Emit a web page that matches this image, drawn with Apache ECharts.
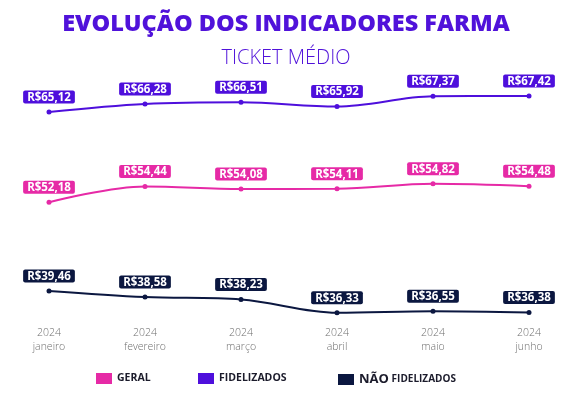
<!DOCTYPE html>
<html>
<head>
<meta charset="utf-8">
<script src="https://cdn.jsdelivr.net/npm/echarts@6/dist/echarts.min.js"></script>
<style>
html,body{margin:0;padding:0;background:#fff;}
#chart{width:572px;height:399px;}
</style>
</head>
<body>
<div id="chart"></div>
<script>
const months = ['janeiro','fevereiro','março','abril','maio','junho'];
const year = '2024';
const geral = [52.18, 54.44, 54.08, 54.11, 54.82, 54.48];
const fidelizados = [65.12, 66.28, 66.51, 65.92, 67.37, 67.42];
const naoFidelizados = [39.46, 38.58, 38.23, 36.33, 36.55, 36.38];

const C_GERAL = '#E62AA6';
const C_FID = '#4E0FDC';
const C_NAO = '#0B1740';
const TITLE_C = '#5012DA';

function fmt(v){ return 'R$' + v.toFixed(2).replace('.', ','); }

function mkSeries(name, data, color){
  return {
    name: name,
    type: 'line',
    data: data,
    smooth: 0.35,
    symbol: 'circle',
    symbolSize: 5,
    lineStyle: {color: color, width: 2},
    itemStyle: {color: color},
    label: {
      show: true,
      position: 'top',
      distance: 6,
      formatter: p => fmt(p.value),
      color: '#fff',
      fontFamily: 'Open Sans',
      fontWeight: 'bold',
      fontSize: 11.5,
      lineHeight: 12,
      backgroundColor: color,
      padding: [1, 4, 0, 4],
      borderRadius: 2
    }
  };
}

const legendText = {color: '#1b1b2b', fontFamily: 'Open Sans', fontWeight: 'bold', fontSize: 10.5};

const chart = echarts.init(document.getElementById('chart'));
chart.setOption({
  backgroundColor: '#fff',
  animation: false,
  title: [
    {text: 'EVOLUÇÃO DOS INDICADORES FARMA', left: 'center', top: 7,
     textStyle: {color: TITLE_C, fontFamily: 'Open Sans', fontWeight: 900, fontSize: 23.5}},
    {text: 'TICKET MÉDIO', left: 'center', top: 43,
     textStyle: {color: TITLE_C, fontFamily: 'Open Sans', fontWeight: 300, fontSize: 20}}
  ],
  grid: {left: 49, right: 43, top: 78, bottom: 77},
  xAxis: {
    type: 'category',
    data: months,
    boundaryGap: false,
    axisLine: {show: false},
    axisTick: {show: false},
    splitLine: {show: false},
    axisLabel: {
      formatter: v => year + '\n' + v,
      color: '#707070',
      fontFamily: 'Open Sans',
      fontWeight: 300,
      fontSize: 10.5,
      lineHeight: 14,
      margin: 4
    }
  },
  yAxis: {
    type: 'value', min: 35, max: 70, show: false,
    splitLine: {show: false}
  },
  legend: [
    {data: ['GERAL'], left: 96, top: 373, padding: 0, icon: 'rect', itemWidth: 16, itemHeight: 11,
     textStyle: legendText},
    {data: ['FIDELIZADOS'], left: 198, top: 373, padding: 0, icon: 'rect', itemWidth: 16, itemHeight: 11,
     textStyle: legendText},
    {data: ['NÃO FIDELIZADOS'], left: 338, top: 373, padding: 0, icon: 'rect', itemWidth: 16, itemHeight: 11,
     formatter: () => '{a|NÃO} {b|FIDELIZADOS}',
     textStyle: Object.assign({}, legendText, {
       rich: {a: {fontSize: 13, fontWeight: 'bold', fontFamily: 'Open Sans', color: '#1b1b2b'},
              b: {fontSize: 10, fontWeight: 'bold', fontFamily: 'Open Sans', color: '#1b1b2b'}}})}
  ],
  series: [
    mkSeries('GERAL', geral, C_GERAL),
    mkSeries('FIDELIZADOS', fidelizados, C_FID),
    mkSeries('NÃO FIDELIZADOS', naoFidelizados, C_NAO)
  ]
});
</script>
</body>
</html>
